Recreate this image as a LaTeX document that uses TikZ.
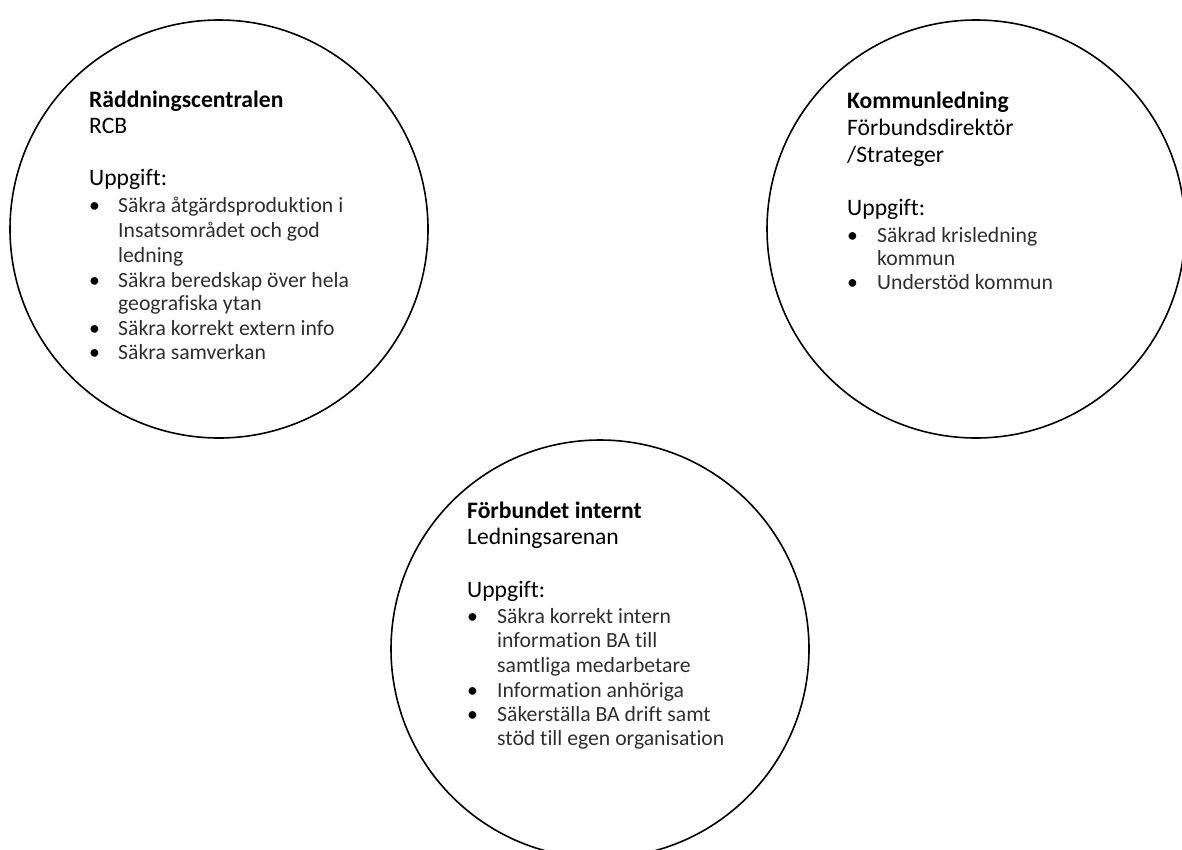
\documentclass[tikz,border=0pt]{standalone}
\usepackage{fontspec}
\setmainfont[Ligatures=NoCommon]{Carlito}
\begin{document}
\begin{tikzpicture}[x=1pt,y=-1pt,
  ring/.style={circle,draw=black,line width=1.6pt,minimum size=418pt,inner sep=0pt},
  head/.style={anchor=base west,inner sep=0pt,font=\fontsize{23.6}{26}\selectfont\bfseries},
  sub/.style={anchor=base west,inner sep=0pt,font=\fontsize{23.6}{26}\selectfont},
  item/.style={anchor=base west,inner sep=0pt,font=\fontsize{21.7}{25}\selectfont,text=black!82},
  dot/.style={anchor=base west,inner sep=0pt,font=\fontsize{21.7}{25}\selectfont}]
\useasboundingbox (0,0) rectangle (1182,849);
\clip (0,0) rectangle (1182,849);
% circles
\node[ring] (c1) at (219,229) {};
\node[ring] (c2) at (976,229) {};
\node[ring] (c3) at (600,649) {};
% circle 1
\node[head] (a1) at (89,107) {Räddningscentralen};
\node[sub] (a2) at (89,133) {RCB};
\node[sub] (a3) at (89,185) {Uppgift:};
\node[dot] (ab1) at (89,212) {•};
\node[item] (a4) at (118,212) {Säkra åtgärdsproduktion i};
\node[item] (a5) at (118,237) {Insatsområdet och god};
\node[item] (a6) at (118,262) {ledning};
\node[dot] (ab2) at (89,287) {•};
\node[item] (a7) at (118,287) {Säkra beredskap över hela};
\node[item] (a8) at (118,310) {geografiska ytan};
\node[dot] (ab3) at (89,335) {•};
\node[item] (a9) at (118,335) {Säkra korrekt extern info};
\node[dot] (ab4) at (89,359) {•};
\node[item] (a10) at (118,359) {Säkra samverkan};
% circle 2
\node[head] (b1) at (847,108) {Kommunledning};
\node[sub] (b2) at (847,135) {Förbundsdirektör};
\node[sub] (b3) at (847,162) {/Strateger};
\node[sub] (b4) at (847,215) {Uppgift:};
\node[dot] (bb1) at (847,242) {•};
\node[item] (b5) at (877,242) {Säkrad krisledning};
\node[item] (b6) at (877,265) {kommun};
\node[dot] (bb2) at (847,289) {•};
\node[item] (b7) at (877,289) {Understöd kommun};
% circle 3
\node[head] (d1) at (467,518) {Förbundet internt};
\node[sub] (d2) at (467,544) {Ledningsarenan};
\node[sub] (d3) at (467,597) {Uppgift:};
\node[dot] (db1) at (467,623) {•};
\node[item] (d4) at (497,623) {Säkra korrekt intern};
\node[item] (d5) at (497,647) {information BA till};
\node[item] (d6) at (497,672) {samtliga medarbetare};
\node[dot] (db2) at (467,697) {•};
\node[item] (d7) at (497,697) {Information anhöriga};
\node[dot] (db3) at (467,721) {•};
\node[item] (d8) at (497,721) {Säkerställa BA drift samt};
\node[item] (d9) at (497,745) {stöd till egen organisation};
\end{tikzpicture}
\end{document}
